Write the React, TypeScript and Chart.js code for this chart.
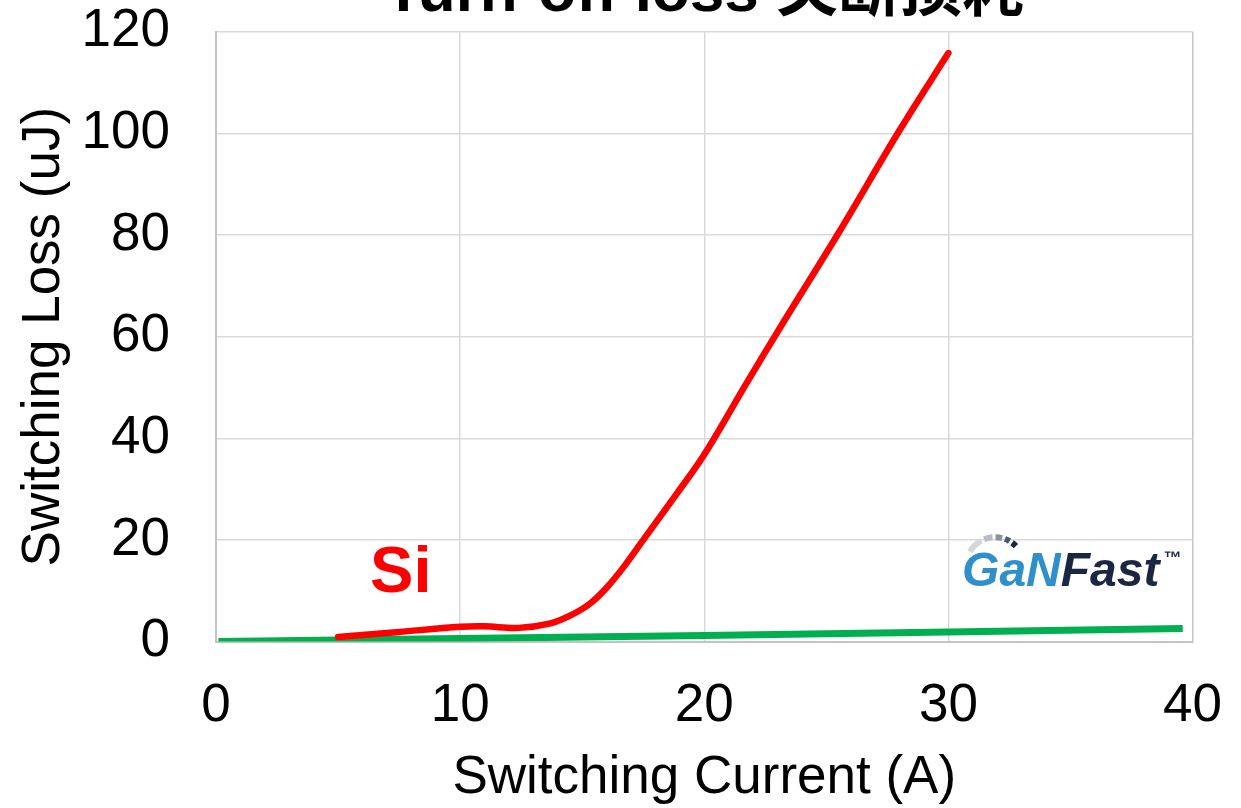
import React, { useEffect, useRef } from 'react';
import { Chart, registerables } from 'chart.js';

Chart.register(...registerables);

// ---- data ----
const TITLE = 'Turn-off loss 关断损耗';
const X_TITLE = 'Switching Current (A)';
const Y_TITLE = 'Switching Loss (uJ)';
const X_MIN = 0;
const X_MAX = 40;
const X_STEP = 10;
const Y_MIN = 0;
const Y_MAX = 120;
const Y_STEP = 20;

const SI_LABEL = 'Si';
const SI_X = [5, 7.5, 10, 11, 12.4, 13.7, 14.5, 15.3, 16, 16.75, 17.56, 18.92, 20, 21.74, 23.06, 25.5, 28, 30];
const SI_Y = [0.9, 1.9, 2.9, 3.0, 2.7, 3.6, 5.1, 7.4, 10.6, 15.0, 20.4, 29.4, 36.8, 50.9, 61.4, 80.4, 100.6, 115.8];

const GAN_X = [0.1, 10, 20, 30, 39.6];
const GAN_Y = [0, 0.6, 1.2, 1.9, 2.6];

// annotation anchors (data coordinates)
const SI_LABEL_AT = { x: 6.31, y: 9.76 };
const LOGO_AT = { x: 30.56, y: 10.9 };

const FONT = "'Liberation Sans', Arial, 'Noto Sans CJK SC', sans-serif";

const toPoints = (xs: number[], ys: number[]) => xs.map((x, i) => ({ x, y: ys[i] }));

const zeroPad = (s: any) => {
  s.paddingTop = 0;
  s.paddingBottom = 0;
  s.paddingLeft = 0;
  s.paddingRight = 0;
};

const annotations = {
  id: 'annotations',
  afterDraw(chart: any) {
    const { ctx, chartArea, scales } = chart;
    const xs = scales.x;
    const ys = scales.y;
    ctx.save();
    // title (partly cut off at the top of the page)
    ctx.fillStyle = '#000';
    ctx.font = `bold 62px ${FONT}`;
    ctx.textAlign = 'center';
    ctx.textBaseline = 'alphabetic';
    ctx.fillText(TITLE, (chartArea.left + chartArea.right) / 2, 11);

    // Si label
    ctx.fillStyle = '#ff0000';
    ctx.font = `bold 65px ${FONT}`;
    ctx.textAlign = 'left';
    ctx.fillText(SI_LABEL, xs.getPixelForValue(SI_LABEL_AT.x), ys.getPixelForValue(SI_LABEL_AT.y));

    // GaNFast logo
    const lx = xs.getPixelForValue(LOGO_AT.x);
    const ly = ys.getPixelForValue(LOGO_AT.y);
    ctx.font = `italic bold 48px ${FONT}`;
    ctx.fillStyle = '#2f8fcb';
    ctx.fillText('GaN', lx, ly);
    const w1 = ctx.measureText('GaN').width;
    ctx.fillStyle = '#1b2742';
    ctx.fillText('Fast', lx + w1, ly);
    const w2 = ctx.measureText('Fast').width;
    ctx.font = `bold 18px ${FONT}`;
    ctx.fillText('™', lx + w1 + w2 + 4, ly - 22);

    // speed arc over the "a"
    const cx = lx + 33;
    const cy = ly - 20;
    const r = 29;
    const segs = [
      [-150, -118, '#d4d6da'],
      [-112, -95, '#b8bcc4'],
      [-89, -76, '#8a91a0'],
      [-70, -60, '#4c5670'],
      [-54, -44, '#1b2742'],
    ];
    ctx.lineWidth = 6;
    ctx.lineCap = 'butt';
    for (const [a0, a1, c] of segs as any) {
      ctx.strokeStyle = c;
      ctx.beginPath();
      ctx.arc(cx, cy, r, (a0 * Math.PI) / 180, (a1 * Math.PI) / 180);
      ctx.stroke();
    }
    ctx.restore();
  },
};

export default function App() {
  const ref = useRef<HTMLCanvasElement | null>(null);
  useEffect(() => {
    if (!ref.current) return;
    const chart = new Chart(ref.current, {
      type: 'line',
      data: {
        datasets: [
          {
            label: 'Si',
            data: toPoints(SI_X, SI_Y),
            borderColor: '#ff0000',
            borderWidth: 6.5,
            borderCapStyle: 'round',
            borderJoinStyle: 'round',
            pointRadius: 0,
            tension: 0.35,
            fill: false,
          },
          {
            label: 'GaN',
            data: toPoints(GAN_X, GAN_Y),
            borderColor: '#00b050',
            borderWidth: 7,
            pointRadius: 0,
            tension: 0,
            fill: false,
          },
        ],
      },
      plugins: [annotations],
      options: {
        animation: false,
        responsive: false,
        devicePixelRatio: 1,
        layout: { padding: { left: 0, top: 31.7, right: 48.5, bottom: 0 } },
        plugins: {
          legend: { display: false },
          tooltip: { enabled: false },
          title: { display: false },
        },
        scales: {
          x: {
            type: 'linear',
            min: X_MIN,
            max: X_MAX,
            afterFit: (s: any) => {
              s.height = 166.4;
              zeroPad(s);
            },
            ticks: {
              stepSize: X_STEP,
              color: '#000',
              font: { family: FONT, size: 53 },
              padding: 33,
              maxRotation: 0,
              autoSkip: false,
            },
            grid: {
              drawTicks: false,
              lineWidth: 1.5,
              color: (c: any) => (c.tick && c.tick.value === X_MAX ? '#c4c4c4' : '#d9d9d9'),
            },
            border: { display: true, color: '#c4c4c4', width: 2 },
            title: {
              display: true,
              text: X_TITLE,
              color: '#000',
              font: { family: FONT, size: 53, lineHeight: 1 },
              padding: { top: 0, bottom: 3 },
            },
          },
          y: {
            type: 'linear',
            min: Y_MIN,
            max: Y_MAX,
            afterFit: (s: any) => {
              s.width = 216;
              zeroPad(s);
            },
            ticks: {
              stepSize: Y_STEP,
              color: '#000',
              font: { family: FONT, size: 53 },
              padding: 46,
            },
            grid: { drawTicks: false, lineWidth: 1.5, color: '#d9d9d9' },
            border: { display: true, color: '#c4c4c4', width: 2 },
            title: {
              display: true,
              text: Y_TITLE,
              color: '#000',
              font: { family: FONT, size: 53, lineHeight: 1 },
              padding: { top: 18, bottom: 0 },
            },
          },
        },
      } as any,
    });
    return () => chart.destroy();
  }, []);
  return (
    <div style={{ position: 'absolute', left: 0, top: 0, width: 1241, height: 808, background: '#fff' }}>
      <canvas ref={ref} width={1241} height={808} />
    </div>
  );
}
